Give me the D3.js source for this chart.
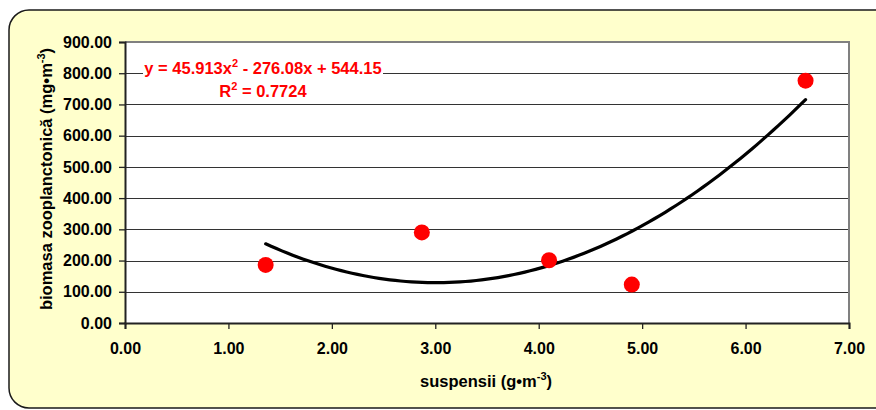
<!DOCTYPE html>
<html>
<head>
<meta charset="utf-8">
<script src="https://cdn.jsdelivr.net/npm/d3@7"></script>
<style>
  body { margin: 0; background: #fff; }
  text { font-family: "Liberation Sans", Arial, sans-serif; font-weight: bold; }
</style>
</head>
<body>
<div id="chart"></div>
<script>
// data
var suspensii = [1.36, 2.87, 4.10, 4.90, 6.58];
var biomasa = [186, 290, 201, 123, 776];
// trendline coefficients as printed on the chart (a, b, c for a*x^2 + b*x + c)
var trendCoef = [45.913, -276.08, 544.15];
var xTicks = [0, 1, 2, 3, 4, 5, 6, 7];
var yTicks = [0, 100, 200, 300, 400, 500, 600, 700, 800, 900];

var width = 876, height = 410;
var margin = {top: 42, right: 27, bottom: 87, left: 125};

var svg = d3.select("#chart")
    .append("svg")
    .attr("width", width)
    .attr("height", height);

// yellow rounded background
svg.append("rect")
    .attr("x", 9).attr("y", 10)
    .attr("width", 890).attr("height", 398)
    .attr("rx", 20).attr("ry", 20)
    .attr("fill", "#ffffcc")
    .attr("stroke", "#1a1a1a")
    .attr("stroke-width", 1.5);

var x = d3.scaleLinear()
    .domain([0, 7])
    .range([margin.left, width - margin.right]);

var y = d3.scaleLinear()
    .domain([0, 900])
    .range([height - margin.bottom, margin.top]);

// plot area
svg.append("rect")
    .attr("x", x(0)).attr("y", y(900))
    .attr("width", x(7) - x(0)).attr("height", y(0) - y(900))
    .attr("fill", "#fff");

// gridlines
svg.append("g")
    .selectAll("line")
    .data(yTicks.slice(1, -1))
    .join("line")
    .attr("x1", x(0)).attr("x2", x(7))
    .attr("y1", function(d) { return Math.round(y(d)) + 0.5; })
    .attr("y2", function(d) { return Math.round(y(d)) + 0.5; })
    .attr("stroke", "#333")
    .attr("stroke-width", 1);

// top and right border
svg.append("path")
    .attr("d", "M" + x(0) + "," + y(900) + "H" + x(7) + "V" + y(0))
    .attr("fill", "none")
    .attr("stroke", "#808080")
    .attr("stroke-width", 2);

// axes
var yAxis = svg.append("g")
    .attr("transform", "translate(" + x(0) + ",0)")
    .call(d3.axisLeft(y).tickValues(yTicks).tickSize(6).tickPadding(7)
        .tickFormat(function(d) { return d.toFixed(2); }));

var xAxis = svg.append("g")
    .attr("transform", "translate(0," + y(0) + ")")
    .call(d3.axisBottom(x).tickValues(xTicks).tickSize(6).tickPadding(14)
        .tickFormat(function(d) { return d.toFixed(2); }));

[yAxis, xAxis].forEach(function(a) {
    a.select(".domain").attr("stroke", "#222").attr("stroke-width", 2);
    a.selectAll(".tick line").attr("stroke", "#222").attr("stroke-width", 1.3);
    a.selectAll(".tick text")
        .attr("fill", "#000")
        .style("font-size", "16px")
        .style("font-family", "'Liberation Sans', Arial, sans-serif")
        .style("font-weight", "bold");
});

// trendline
var trend = d3.range(101).map(function(i) {
    var xv = suspensii[0] + (suspensii[suspensii.length - 1] - suspensii[0]) * i / 100;
    return [xv, trendCoef[0] * xv * xv + trendCoef[1] * xv + trendCoef[2]];
});

svg.append("path")
    .datum(trend)
    .attr("fill", "none")
    .attr("stroke", "#000")
    .attr("stroke-width", 3.2)
    .attr("stroke-linecap", "round")
    .attr("d", d3.line()
        .x(function(d) { return x(d[0]); })
        .y(function(d) { return y(d[1]); }));

// points
svg.append("g")
    .selectAll("circle")
    .data(suspensii)
    .join("circle")
    .attr("cx", function(d) { return x(d); })
    .attr("cy", function(d, i) { return y(biomasa[i]); })
    .attr("r", 8)
    .attr("fill", "#ff0000");

// equation label with white box
svg.append("rect")
    .attr("x", 143).attr("y", 56)
    .attr("width", 240).attr("height", 48)
    .attr("fill", "#fff");

var eq = svg.append("text")
    .attr("x", 263).attr("y", 74)
    .attr("text-anchor", "middle")
    .attr("fill", "#ff0000")
    .style("font-size", "16.5px");
eq.append("tspan").text("y = 45.913x");
eq.append("tspan").attr("dy", -7).style("font-size", "11px").text("2");
eq.append("tspan").attr("dy", 7).text(" - 276.08x + 544.15");

var r2 = svg.append("text")
    .attr("x", 263).attr("y", 97)
    .attr("text-anchor", "middle")
    .attr("fill", "#ff0000")
    .style("font-size", "16.5px");
r2.append("tspan").text("R");
r2.append("tspan").attr("dy", -7).style("font-size", "11px").text("2");
r2.append("tspan").attr("dy", 7).text(" = 0.7724");

// axis titles
var yt = svg.append("text")
    .attr("transform", "translate(52,179) rotate(-90)")
    .attr("text-anchor", "middle")
    .attr("fill", "#000")
    .style("font-size", "16.5px");
yt.append("tspan").text("biomasa zooplanctonică (mg•m");
yt.append("tspan").attr("dy", -7).style("font-size", "11px").text("-3");
yt.append("tspan").attr("dy", 7).text(")");

var xt = svg.append("text")
    .attr("x", 486).attr("y", 387)
    .attr("text-anchor", "middle")
    .attr("fill", "#000")
    .style("font-size", "16.5px");
xt.append("tspan").text("suspensii (g•m");
xt.append("tspan").attr("dy", -7).style("font-size", "11px").text("-3");
xt.append("tspan").attr("dy", 7).text(")");
</script>
</body>
</html>
